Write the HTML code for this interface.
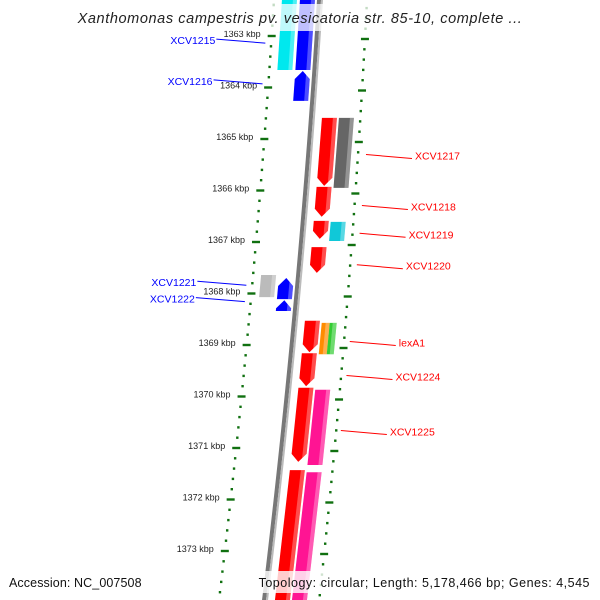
<!DOCTYPE html>
<html><head><meta charset="utf-8"><style>
html,body{margin:0;padding:0;background:#fff}
svg{display:block;font-family:"Liberation Sans","DejaVu Sans",sans-serif}
</style></head><body>
<svg id="map" width="600" height="600" viewBox="0 0 600 600" xmlns="http://www.w3.org/2000/svg">
<g id="tracks"></g>
<g id="genes"></g>
<g id="labels"></g>
<rect x="60" y="4" width="480" height="27" fill="#fff" opacity="0.75"/>
<text x="300" y="23" text-anchor="middle" font-size="14.5" font-style="italic" fill="#222" letter-spacing="0.6">Xanthomonas campestris pv. vesicatoria str. 85-10, complete ...</text>
<rect x="258" y="571" width="337" height="22" fill="#fff" opacity="0.8"/>
<text x="9" y="587" font-size="12.5" fill="#111" letter-spacing="0.1">Accession: NC_007508</text>
<text x="590" y="587" text-anchor="end" font-size="12.5" fill="#111" letter-spacing="0.5">Topology: circular; Length: 5,178,466 bp; Genes: 4,545</text>
</svg>
<script>
const tickKbp = [1363,1364,1365,1366,1367,1368,1369,1370,1371,1372,1373];
const geneStart = [1362.0,1362.0,1363.68,1364.59,1364.59,1365.93,1366.59,1366.61,1367.10,1367.64,1367.70,1368.13,1368.53,1368.57,1368.57,1369.16,1369.83,1369.87,1371.43,1371.47];
const geneEnd   = [1363.66,1363.66,1364.26,1365.91,1365.95,1366.51,1366.94,1366.98,1367.60,1368.07,1368.11,1368.34,1369.14,1369.18,1369.18,1369.80,1371.27,1371.33,1374.2,1374.2];
const geneLane  = [-2,-1,-1,1,2,1,1,2,1,-2,-1,-1,1,2,3,1,1,2,1,2];
const geneColor = ['#00e8ee','#0000ff','#0000ff','#ff0000','#666666','#ff0000','#ff0000','#10c8d8','#ff0000','#bbbbbb','#0000ff','#0000ff','#ff0000','#ff8c00','#33cc33','#ff0000','#ff0000','#ff1493','#ff0000','#ff1493'];
const geneArrow = [0,0,1,1,0,1,1,0,1,0,1,1,1,0,0,1,1,0,0,0];
const labelText = ['XCV1215','XCV1216','XCV1217','XCV1218','XCV1219','XCV1220','XCV1221','XCV1222','lexA1','XCV1224','XCV1225'];
const labelKbp  = [1363.10,1363.89,1365.34,1366.33,1366.87,1367.48,1367.80,1368.12,1368.97,1369.63,1370.70];
const labelSide = [-1,-1,1,1,1,1,-1,-1,1,1,1];

const NS='http://www.w3.org/2000/svg';
const Y0=36, PX=51.5;
function yOf(k){return Y0+(k-1363)*PX;}
function base(y){return 320-0.0628*y-0.000048*y*y;}
function rOff(y){return 47+0.012*y;}
function mk(tag,attrs,parent){const e=document.createElementNS(NS,tag);for(const a in attrs)e.setAttribute(a,attrs[a]);parent.appendChild(e);return e;}
const tracks=document.getElementById('tracks'),genes=document.getElementById('genes'),labels=document.getElementById('labels');

let pts=[];for(let y=-5;y<=605;y+=5)pts.push((base(y)-1)+','+y);
const bb=mk('polyline',{points:pts.join(' '),fill:'none',stroke:'#777','stroke-width':4},tracks);


pts=[];for(let y=-5;y<=605;y+=5)pts.push((base(y)+2)+','+y);
const bb2=mk('polyline',{points:pts.join(' '),fill:'none',stroke:'#bbb','stroke-width':2},tracks);



for(let k=1362.2;k<1374.2;k+=0.2){
  const kr=Math.round(k*10)/10;
  const major=Math.abs(kr-Math.round(kr))<0.01;
  [-1,1].forEach(side=>{
    const y=yOf(kr)+(side>0?3:0);
    if(y<-5||y>605)return;
    const x=base(y)+(side<0?-46:rOff(y));
    const d=mk('rect',{x:major?x-4:x-1.2,y:y-1.2,width:major?8:2.4,height:2.4,fill:'#107010'},tracks);
    
    
  });
}
tickKbp.forEach(k=>{
  const y=yOf(k);const x=base(y)-46-11;
  const t=mk('text',{x:x,y:y+1,'text-anchor':'end','font-size':9,fill:'#222'},tracks);
  t.textContent=k+' kbp';
  
  
});

geneStart.forEach((s,i)=>{
  const lane=geneLane[i];
  const o1=lane<0?(lane==-1?-20:-38):(lane==1?10:(lane==2?27:35));
  const w=lane==2&&geneColor[i]=='#ff8c00'?8:(lane==3?7:15);
  const oa=lane==3?35:o1;
  const y1=yOf(s),y2=yOf(geneEnd[i]);
  const L=y=>base(y)+oa, R=y=>base(y)+oa+w;
  let p;
  if(geneArrow[i]&&lane>0){
    const ya=Math.max(y1,y2-8);
    p=[[L(y1),y1],[R(y1),y1],[R(ya),ya],[(L(y2)+R(y2))/2,y2],[L(ya),ya]];
  }else if(geneArrow[i]&&lane<0){
    const ya=Math.min(y2,y1+8);
    p=[[(L(y1)+R(y1))/2,y1],[R(ya),ya],[R(y2),y2],[L(y2),y2],[L(ya),ya]];
  }else{
    p=[[L(y1),y1],[R(y1),y1],[R(y2),y2],[L(y2),y2]];
  }
  const g=mk('polygon',{points:p.map(q=>q.join(',')).join(' '),fill:geneColor[i]},genes);
  
  
  const hl=mk('polygon',{points:[[R(y1)-4,y1],[R(y1),y1],[R(y2),y2],[R(y2)-4,y2]].map(q=>q.join(',')).join(' '),fill:'#fff',opacity:0.3},genes);
  
  
});

labelText.forEach((t,i)=>{
  const y=yOf(labelKbp[i]);const side=labelSide[i];
  const col=side<0?'#0000ff':'#ff0000';
  let x1,x2,tx;
  if(side<0){x2=base(y)-52;x1=x2-49;tx=x1-1;}
  else{x1=base(y)+57;x2=x1+46;tx=x2+3;}
  const l=mk('line',{x1:x1,y1:y-2,x2:x2,y2:y+2,stroke:col,'stroke-width':1},labels);
  
  
  const tt=mk('text',{x:tx,y:y+3,'text-anchor':side<0?'end':'start','font-size':10.5,fill:col},labels);
  tt.textContent=t;
  
  
});
</script>
</body></html>
